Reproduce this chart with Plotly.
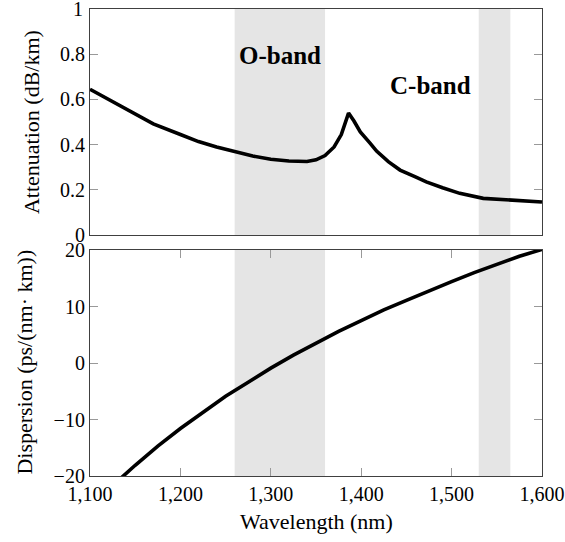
import plotly.graph_objects as go
from plotly.subplots import make_subplots

# Attenuation (dB/km) vs wavelength (nm)
att_wavelength = [1100, 1135, 1150, 1170, 1200, 1215, 1220, 1240, 1260, 1280, 1300, 1320, 1340,
                  1350, 1360, 1370, 1378, 1386, 1392, 1399, 1410, 1417, 1430, 1443, 1460,
                  1472, 1490, 1509, 1535, 1565, 1600]
attenuation = [0.645, 0.570, 0.536, 0.492, 0.445, 0.422, 0.414, 0.390, 0.368, 0.350, 0.336, 0.328, 0.326,
               0.333, 0.352, 0.390, 0.445, 0.540, 0.505, 0.457, 0.406, 0.372, 0.325, 0.288, 0.258,
               0.236, 0.210, 0.185, 0.163, 0.155, 0.147]

# Dispersion (ps/(nm km)) vs wavelength (nm)
disp_wavelength = [1100, 1125, 1150, 1175, 1200, 1225, 1250, 1275, 1300, 1325, 1350, 1375,
                   1400, 1425, 1450, 1475, 1500, 1525, 1550, 1575, 1600]
dispersion = [-25.6, -21.7, -18.1, -14.7, -11.6, -8.7, -5.9, -3.4, -0.9, 1.4, 3.5, 5.6,
              7.5, 9.4, 11.1, 12.8, 14.4, 16.0, 17.5, 18.9, 20.1]

# Bands (nm)
band_names = ["O-band", "C-band"]
band_start = [1260, 1530]
band_end = [1360, 1565]
band_label_x = [1310, 1477]
band_label_y = [0.795, 0.663]

x_ticks = [1100, 1200, 1300, 1400, 1500, 1600]
att_ticks = [0, 0.2, 0.4, 0.6, 0.8, 1]
att_tick_text = ["0", "0.2", "0.4", "0.6", "0.8", "1"]
disp_ticks = [-20, -10, 0, 10, 20]

FONT = "Liberation Serif, Times New Roman, DejaVu Serif, serif"
AXIS_COLOR = "#404040"
TICK_COLOR = "#999999"
BAND_COLOR = "#e5e5e5"

fig = make_subplots(rows=2, cols=1, shared_xaxes=False)

fig.add_trace(go.Scatter(x=att_wavelength, y=attenuation, mode="lines",
                         line=dict(color="black", width=3.6), showlegend=False,
                         hoverinfo="skip"),
              row=1, col=1)
fig.add_trace(go.Scatter(x=disp_wavelength, y=dispersion, mode="lines",
                         line=dict(color="black", width=3.6), showlegend=False,
                         hoverinfo="skip"),
              row=2, col=1)

for s, e in zip(band_start, band_end):
    for xr, yr in (("x", "y domain"), ("x2", "y2 domain")):
        fig.add_shape(type="rect", xref=xr, yref=yr, x0=s, x1=e, y0=0, y1=1,
                      fillcolor=BAND_COLOR, line=dict(width=0), layer="below")

for name, lx, ly in zip(band_names, band_label_x, band_label_y):
    fig.add_annotation(x=lx, y=ly, xref="x", yref="y", text="<b>" + name + "</b>",
                       showarrow=False, font=dict(family=FONT, size=25, color="black"))

axis_common = dict(showline=True, linecolor=AXIS_COLOR, linewidth=1.2, mirror=True,
                   showgrid=False, zeroline=False, automargin=False,
                   tickfont=dict(family=FONT, size=20, color="black"))

fig.update_xaxes(range=[1100, 1600], tickvals=x_ticks, ticks="", showticklabels=False,
                 domain=[0, 1], row=1, col=1, **axis_common)
fig.update_xaxes(range=[1100, 1600], tickvals=x_ticks, tickformat=",d", ticks="inside",
                 ticklen=8, tickcolor=TICK_COLOR, tickwidth=1,
                 domain=[0, 1], row=2, col=1, **{**axis_common, "mirror": "ticks"})
# top tick label "1" sits at the figure edge; drawn as an annotation so it is not culled
fig.update_yaxes(range=[0, 1], tickvals=att_ticks[:-1], ticktext=att_tick_text[:-1],
                 ticks="inside", ticklen=8, tickcolor=TICK_COLOR, tickwidth=1,
                 domain=[0.5156, 1.0], row=1, col=1, **{**axis_common, "mirror": "ticks"})
fig.update_yaxes(range=[-20, 20], tickvals=disp_ticks,
                 ticks="inside", ticklen=8, tickcolor=TICK_COLOR, tickwidth=1,
                 domain=[0.0, 0.4839], row=2, col=1, **{**axis_common, "mirror": "ticks"})

fig.add_annotation(x=0, y=att_ticks[-1], xref="paper", yref="y", text=att_tick_text[-1],
                   showarrow=False, xanchor="right", yanchor="middle", xshift=-5,
                   font=dict(family=FONT, size=20, color="black"))

fig.add_annotation(x=-0.1305, y=0.758, xref="paper", yref="paper", text="Attenuation (dB/km)",
                   textangle=-90, showarrow=False, xanchor="center", yanchor="middle",
                   font=dict(family=FONT, size=22, color="black"))
fig.add_annotation(x=-0.147, y=0.244, xref="paper", yref="paper", text="Dispersion (ps/(nm· km))",
                   textangle=-90, showarrow=False, xanchor="center", yanchor="middle",
                   font=dict(family=FONT, size=22, color="black"))
fig.add_annotation(x=0.5, y=-0.0964, xref="paper", yref="paper", text="Wavelength (nm)",
                   showarrow=False, xanchor="center", yanchor="middle",
                   font=dict(family=FONT, size=22, color="black"))

fig.update_layout(width=565, height=542, margin=dict(l=90, r=23, t=9, b=66),
                  plot_bgcolor="white", paper_bgcolor="white", showlegend=False,
                  font=dict(family=FONT))

fig.write_html("out.html", config={"displayModeBar": False},
               post_script="document.body.style.margin='0';")
